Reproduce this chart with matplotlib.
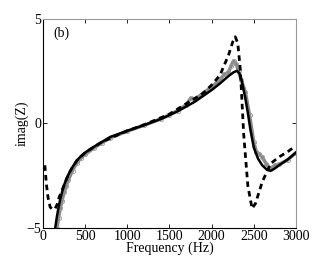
import numpy as np
import matplotlib.pyplot as plt

plt.rcParams['font.family'] = ['Liberation Serif', 'DejaVu Serif']
plt.rcParams['font.size'] = 10

# model (solid black)
f_model = [145, 165, 185, 205, 225, 250, 275, 300, 350, 400, 450, 500, 600, 700,
           800, 1000, 1200, 1400, 1500, 1600, 1800, 2000, 2100, 2200, 2260, 2300,
           2330, 2360, 2400, 2430, 2460, 2500, 2550, 2600, 2650, 2700, 2750, 2800,
           2900, 3000]
z_model = [-5.0, -4.45, -4.0, -3.62, -3.3, -2.95, -2.68, -2.45, -2.08, -1.78, -1.56,
           -1.39, -1.12, -0.88, -0.64, -0.35, -0.08, 0.22, 0.4, 0.59, 1.04, 1.6,
           1.92, 2.27, 2.45, 2.52, 2.4, 2.0, 1.2, 0.5, -0.3, -1.15, -1.68, -2.0,
           -2.19, -2.27, -2.15, -2.0, -1.73, -1.39]

# measured (grey)
f_meas = [165, 185, 205, 225, 250, 275, 300, 350, 400, 450, 500, 600, 700, 800,
          1000, 1200, 1400, 1500, 1600, 1700, 1750, 1800, 1900, 2000, 2100, 2150,
          2200, 2230, 2260, 2290, 2320, 2350, 2400, 2450, 2500, 2530, 2560, 2600,
          2650, 2700, 2750, 2800, 2900, 3000]
z_meas = [-5.0, -4.5, -4.05, -3.7, -3.3, -3.0, -2.7, -2.25, -1.9, -1.65, -1.48,
          -1.18, -0.92, -0.68, -0.37, -0.08, 0.22, 0.42, 0.62, 0.9, 1.2, 1.15, 1.45,
          1.75, 2.1, 2.35, 2.45, 2.75, 3.0, 2.85, 2.5, 2.1, 1.5, 0.4, -0.9, -1.35,
          -1.44, -1.6, -1.95, -2.15, -2.0, -1.95, -1.75, -1.4]

# simple model (dashed)
f_dash = [22, 40, 60, 85, 110, 140, 165, 190, 215, 240, 270, 300, 350, 400, 500,
          700, 1000, 1200, 1500, 1700, 1900, 2000, 2100, 2200, 2250, 2280, 2310,
          2340, 2380, 2430, 2480, 2520, 2600, 2700, 2800, 2900, 2980]
z_dash = [-2.0, -2.9, -3.55, -4.0, -4.1, -4.1, -3.9, -3.55, -3.3, -3.05, -2.75,
          -2.45, -2.08, -1.78, -1.39, -0.88, -0.35, -0.06, 0.45, 0.95, 1.45, 1.84,
          2.32, 3.27, 3.9, 4.15, 3.85, 2.6, -0.5, -3.0, -4.07, -3.83, -2.8, -1.92,
          -1.6, -1.36, -1.12]

fig = plt.figure(figsize=(3.27, 2.57), dpi=100)
ax = fig.add_axes([0.1315, 0.113, 0.7735, 0.813])

ax.plot(f_meas, z_meas, color='#888888', lw=2.5, marker='o', ms=3,
        mfc='none', mec='#999999', mew=0.6)
ax.plot(f_dash, z_dash, color='black', lw=2, ls=(0, (2, 1.5)))
ax.plot(f_model, z_model, color='black', lw=1.8)

ax.set_xlim(0, 3000)
ax.set_ylim(-5, 5)
ax.set_xticks([0, 500, 1000, 1500, 2000, 2500, 3000])
ax.set_yticks([-5, 0, 5])
ax.tick_params(direction='in', top=True, right=True, length=3, width=0.6, pad=1.5)
for s in ['top', 'right']:
    ax.spines[s].set_color('#999999')
for s in ax.spines.values():
    s.set_linewidth(0.8)

ax.set_xlabel('Frequency (Hz)', labelpad=-1)
ax.set_ylabel('imag(Z)', labelpad=-2)
ax.text(0.04, 0.93, '(b)', transform=ax.transAxes, va='center', ha='left')

fig.savefig('out.png', dpi=100)
